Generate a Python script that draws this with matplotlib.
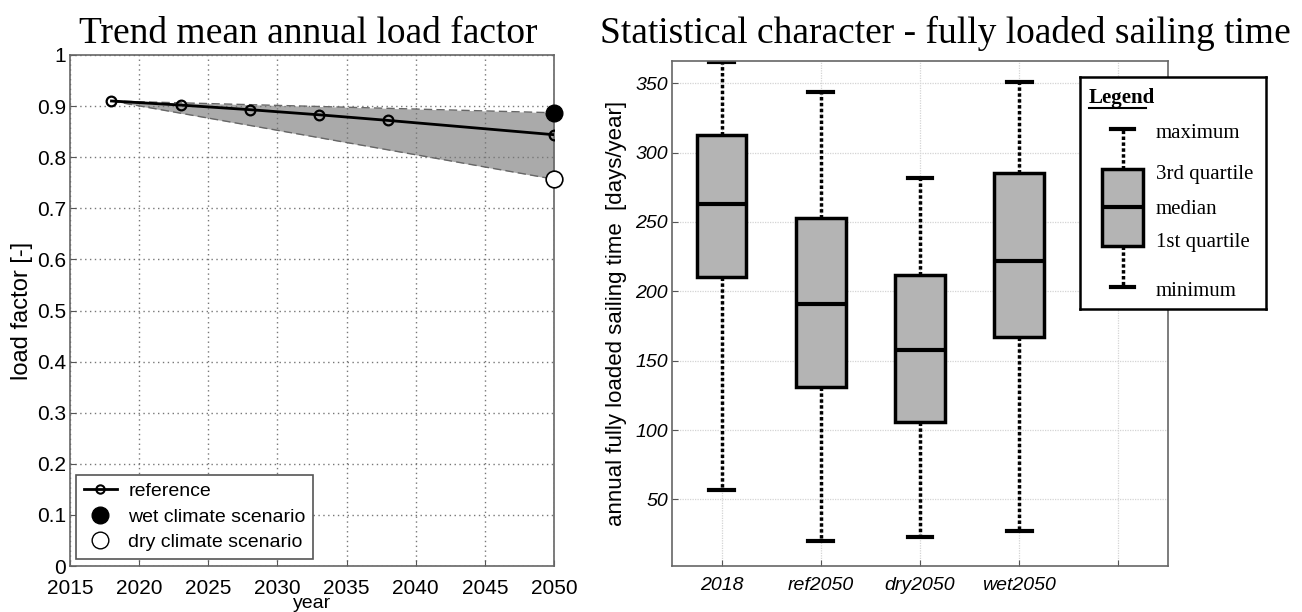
import matplotlib
matplotlib.use('Agg')
import matplotlib.pyplot as plt
from matplotlib.lines import Line2D

matplotlib.rcParams['font.family'] = ['Liberation Sans', 'DejaVu Sans']

SERIF = ['Liberation Serif', 'DejaVu Serif']

# left panel: trend of mean annual load factor
ref_years = [2018, 2023, 2028, 2033, 2038, 2050]
ref_load = [0.910, 0.902, 0.893, 0.883, 0.872, 0.844]
band_years = [2018, 2050]
wet_band = [0.910, 0.887]
dry_band = [0.910, 0.757]
scenario_year = 2050
wet_load = 0.887
dry_load = 0.757

# right panel: fully loaded sailing time per scenario
box_labels = ['2018', 'ref2050', 'dry2050', 'wet2050']
box_min = [57, 20, 23, 27]
box_q1 = [210, 131, 106, 167]
box_med = [263, 191, 158, 222]
box_q3 = [313, 253, 212, 285]
box_max = [365, 344, 282, 351]

W, H = 1302, 612
fig = plt.figure(figsize=(W / 100, H / 100), dpi=100)


def px_rect(x0, y0, x1, y1):
    return [x0 / W, 1 - y1 / H, (x1 - x0) / W, (y1 - y0) / H]


# ---------------- left ----------------
ax1 = fig.add_axes(px_rect(70, 55, 554, 566))
ax1.fill_between(band_years, dry_band, wet_band, color='#aaaaaa', lw=0, zorder=1)
ax1.plot(band_years, wet_band, ls=(0, (6, 3)), color='#666666', lw=1, zorder=2)
ax1.plot(band_years, dry_band, ls=(0, (6, 3)), color='#666666', lw=1, zorder=2)
ax1.plot(ref_years, ref_load, '-o', color='black', lw=2, ms=7, mfc='none',
         mew=1.6, zorder=3)
ax1.plot([scenario_year], [wet_load], 'o', color='black', ms=12, zorder=4, clip_on=False)
ax1.plot([scenario_year], [dry_load], 'o', mfc='white', mec='black', ms=12,
         mew=1.2, zorder=4, clip_on=False)

ax1.set_xlim(2015, 2050)
ax1.set_ylim(0, 1)
ax1.set_xticks(range(2015, 2051, 5))
ax1.set_yticks([i / 10 for i in range(11)])
ax1.set_yticklabels(['0'] + [f'0.{i}' for i in range(1, 10)] + ['1'])
ax1.tick_params(direction='in', labelsize=15, length=4, color='#555555', pad=3)
ax1.tick_params(axis='x', pad=9)
ax1.grid(True, ls=(0, (1, 2.5)), color='#777777', lw=1)
for s in ax1.spines.values():
    s.set_color('#666666')
    s.set_linewidth(1.2)
ax1.set_xlabel('year', fontsize=14, labelpad=-2)
ax1.set_ylabel('load factor [-]', fontsize=17, labelpad=3)

handles = [
    Line2D([], [], color='black', lw=2, marker='o', ms=6, mfc='none', mew=1.5),
    Line2D([], [], ls='none', marker='o', color='black', ms=12),
    Line2D([], [], ls='none', marker='o', mfc='white', mec='black', ms=12, mew=1),
]
leg = ax1.legend(handles, ['reference', 'wet climate scenario', 'dry climate scenario'],
                 loc='lower left', bbox_to_anchor=(0.012, 0.014), borderaxespad=0,
                 fontsize=14, fancybox=False, framealpha=1, edgecolor='#555555',
                 handlelength=1.7, handletextpad=0.6, borderpad=0.4,
                 labelspacing=0.4)
leg.get_frame().set_linewidth(1.2)

fig.text(308 / W, 1 - 43 / H, 'Trend mean annual load factor', family=SERIF,
         fontsize=27, ha='center', va='baseline')

# ---------------- right ----------------
ax2 = fig.add_axes(px_rect(672, 61, 1168, 566))
stats = [dict(whislo=lo, q1=a, med=m, q3=b, whishi=hi, label=lab)
         for lo, a, m, b, hi, lab in zip(box_min, box_q1, box_med, box_q3, box_max, box_labels)]
positions = list(range(1, len(stats) + 1))

box_style = dict(
    widths=0.5, capwidths=0.25, patch_artist=True, showfliers=False,
    boxprops=dict(facecolor='#b4b4b4', edgecolor='black', lw=2.5),
    whiskerprops=dict(color='black', ls=(0, (1, 0.7)), lw=2.5),
    capprops=dict(color='black', lw=3),
    medianprops=dict(color='black', lw=3),
)
ax2.bxp(stats, positions=positions, **box_style)

ax2.set_xlim(0.5, 5.5)
ax2.set_ylim(2, 366)
ax2.set_xticks(range(1, 6))
ax2.set_xticklabels(box_labels + [''], fontsize=14, style='italic')
ax2.set_yticks(range(50, 351, 50))
ax2.tick_params(axis='y', labelsize=14)
for t in ax2.get_yticklabels():
    t.set_style('italic')
ax2.tick_params(direction='in', length=4, color='#555555', pad=8)
ax2.tick_params(axis='y', pad=3)
ax2.grid(True, ls=(0, (1, 1)), color='#d4d4d4', lw=0.9)
ax2.set_axisbelow(True)
for s in ax2.spines.values():
    s.set_color('#666666')
    s.set_linewidth(1.2)
ax2.set_ylabel('annual fully loaded sailing time  [days/year]', fontsize=16, labelpad=6)

fig.text(945 / W, 1 - 43 / H, 'Statistical character - fully loaded sailing time',
         family=SERIF, fontsize=27, ha='center', va='baseline')

# legend explaining the box symbol, drawn in its own pixel-unit axes
lx0, ly0, lx1, ly1 = 1080, 77, 1266, 309
axl = fig.add_axes(px_rect(lx0, ly0, lx1, ly1))
axl.set_xlim(0, lx1 - lx0)
axl.set_ylim(ly1 - ly0, 0)
axl.set_xticks([])
axl.set_yticks([])
for s in axl.spines.values():
    s.set_color('black')
    s.set_linewidth(1.8)

key_stats = [dict(whislo=210, q1=169, med=130, q3=92, whishi=52)]
key_style = dict(box_style, widths=41, capwidths=23)
axl.bxp(key_stats, positions=[42.5], manage_ticks=False, **key_style)

axl.text(9, 21, 'Legend', family=SERIF, fontsize=15, fontweight='bold',
         va='center', ha='left')
axl.plot([9, 66], [31, 31], color='black', lw=1.5)
key_labels = ['maximum', '3rd quartile', 'median', '1st quartile', 'minimum']
key_y = [56, 98, 132, 166, 214]
for lab, y in zip(key_labels, key_y):
    axl.text(76, y, lab, family=SERIF, fontsize=15, va='center', ha='left')

fig.savefig('out.png', dpi=100)
